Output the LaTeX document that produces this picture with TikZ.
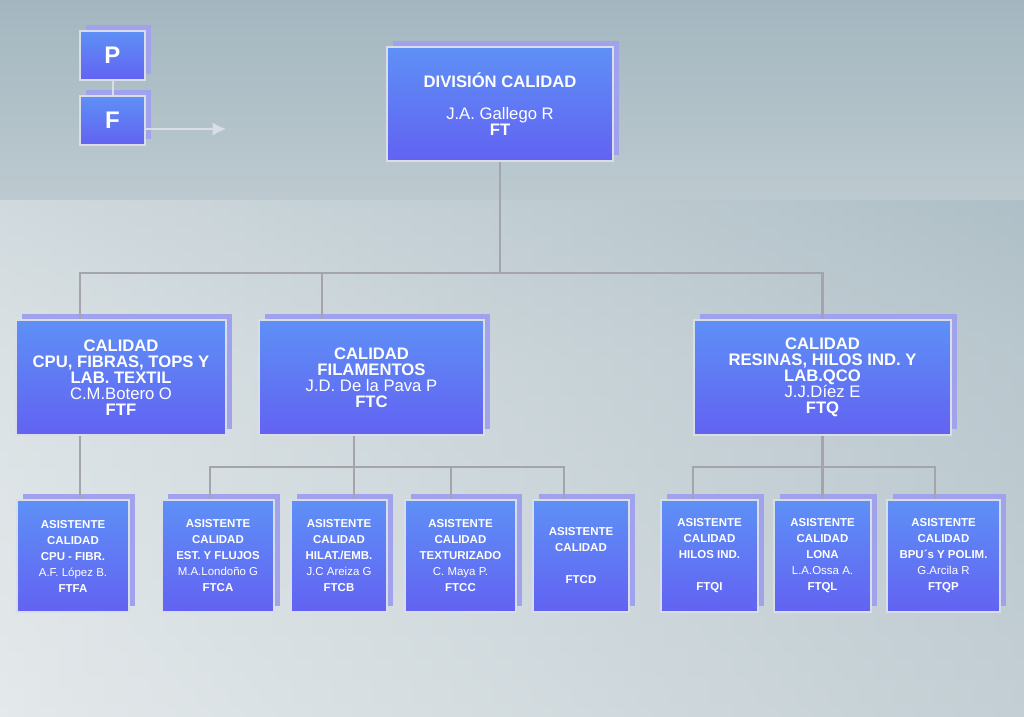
\documentclass[tikz,border=0pt]{standalone}
\usepackage{fontspec}
\setmainfont{Liberation Sans}
\usetikzlibrary{fit,calc,arrows.meta}
\definecolor{bgA}{HTML}{A3B6BF}
\definecolor{bgB}{HTML}{E4E9EB}
\definecolor{boxT}{HTML}{5E90F6}
\definecolor{boxB}{HTML}{6262F2}
\definecolor{shad}{HTML}{A0A2EE}
\definecolor{edge}{HTML}{D9DEE6}
\definecolor{conn}{HTML}{A4A4AC}
\newcommand{\Bb}{\fontsize{12.5}{16.5}\selectfont\bfseries}
\newcommand{\Bm}{\fontsize{12.5}{16.5}\selectfont\mdseries}
\newcommand{\Sb}{\fontsize{8.6}{12.3}\selectfont\bfseries}
\newcommand{\Sm}{\fontsize{8.6}{12.3}\selectfont\mdseries}
\newcommand{\Hb}{\fontsize{18}{20}\selectfont\bfseries}
\tikzset{
  obox/.style={draw=edge, line width=1.5pt, top color=boxT, bottom color=boxB, inner sep=0pt},
  shadowbox/.style={fill=shad},
  txt/.style={text=white, align=center, inner sep=0pt},
  conline/.style={draw=conn, line width=1.6pt},
}
\newcommand{\obx}[6]{%
  \fill[shadowbox] (#2+6,#3-6) rectangle (#4+6,#5-6);
  \node[obox, fit={(#2,#3)(#4,#5)}] (#1) {};
  \node[txt] at (#1) {#6};}
\begin{document}
\begin{tikzpicture}[x=0.75pt,y=-0.75pt]
\shade[top color=bgA, bottom color=bgB, middle color=bgB!70!bgA] (0,0) rectangle (1024,717);
\shade[left color=bgB, right color=bgA, opacity=0.5] (0,200) rectangle (1024,717);
\useasboundingbox (0,0) rectangle (1024,717);
\coordinate (bus) at (500,273);
\coordinate (busL) at (354,467);
\coordinate (busR) at (822,467);
\coordinate (arr) at (226,129);
\coordinate (x80) at (80,0);
\coordinate (x210) at (210,0);
\coordinate (x322) at (322,0);
\coordinate (x354) at (354,0);
\coordinate (x451) at (451,0);
\coordinate (x564) at (564,0);
\coordinate (x693) at (693,0);
\coordinate (x822) at (822,0);
\coordinate (x935) at (935,0);
\obx{P}{80}{31}{145}{80}{\Hb P}
\obx{F}{80}{96}{145}{145}{\Hb F}
\obx{top}{387}{47}{613}{161}{\Bb DIVISIÓN CALIDAD\\\Bm\ \\\Bm J.A. Gallego R\\\Bb FT}
\obx{l1}{16}{320}{226}{435}{\Bb CALIDAD\\\Bb CPU, FIBRAS, TOPS Y\\\Bb LAB. TEXTIL\\\Bm C.M.Botero O\\\Bb FTF}
\obx{l2}{259}{320}{484}{435}{\Bb CALIDAD\\\Bb FILAMENTOS\\\Bm J.D. De la Pava P\\\Bb FTC}
\obx{l3}{694}{320}{951}{435}{\Bb CALIDAD\\\Bb RESINAS, HILOS IND. Y\\\Bb LAB.QCO\\\Bm J.J.Díez E\\\Bb FTQ}
\obx{fa}{17}{500}{129}{612}{\Sb ASISTENTE\\\Sb CALIDAD\\\Sb CPU - FIBR.\\\Sm A.F. López B.\\\Sb FTFA}
\obx{ca}{162}{500}{274}{612}{\Sb ASISTENTE\\\Sb CALIDAD\\\Sb EST. Y FLUJOS\\\Sm M.A.Londoño G\\\Sb FTCA}
\obx{cb}{291}{500}{387}{612}{\Sb ASISTENTE\\\Sb CALIDAD\\\Sb HILAT./EMB.\\\Sm J.C Areiza G\\\Sb FTCB}
\obx{cc}{405}{500}{516}{612}{\Sb ASISTENTE\\\Sb CALIDAD\\\Sb TEXTURIZADO\\\Sm C. Maya P.\\\Sb FTCC}
\obx{cd}{533}{500}{629}{612}{\Sb ASISTENTE\\\Sb CALIDAD\\\Sm\ \\\Sb FTCD}
\obx{qi}{661}{500}{758}{612}{\Sb ASISTENTE\\\Sb CALIDAD\\\Sb HILOS IND.\\\Sm\ \\\Sb FTQI}
\obx{ql}{774}{500}{871}{612}{\Sb ASISTENTE\\\Sb CALIDAD\\\Sb LONA\\\Sm L.A.Ossa A.\\\Sb FTQL}
\obx{qp}{887}{500}{1000}{612}{\Sb ASISTENTE\\\Sb CALIDAD\\\Sb BPU´s Y POLIM.\\\Sm G.Arcila R\\\Sb FTQP}
\draw[conline] (top.south) -- (bus);
\draw[conline] (bus) -| (x80 |- l1.north);
\draw[conline] (bus) -| (x322 |- l2.north);
\draw[conline] (bus) -| (l3.north);
\draw[conline] (x80 |- l1.south) -- (x80 |- fa.north);
\draw[conline] (x354 |- l2.south) -- (x354 |- cb.north);
\draw[conline] (busL) -| (x210 |- ca.north);
\draw[conline] (busL) -| (x451 |- cc.north);
\draw[conline] (busL) -| (x564 |- cd.north);
\draw[conline] (l3.south) -- (l3.south |- ql.north);
\draw[conline] (busR) -| (x693 |- qi.north);
\draw[conline] (busR) -| (x935 |- qp.north);
\draw[draw=edge, line width=1.5pt] (P.south) -- (F.north);
\draw[draw=edge, line width=1.5pt, -{Latex[length=10pt,width=10pt]}] (F.east |- arr) -- (arr);
\end{tikzpicture}
\end{document}
